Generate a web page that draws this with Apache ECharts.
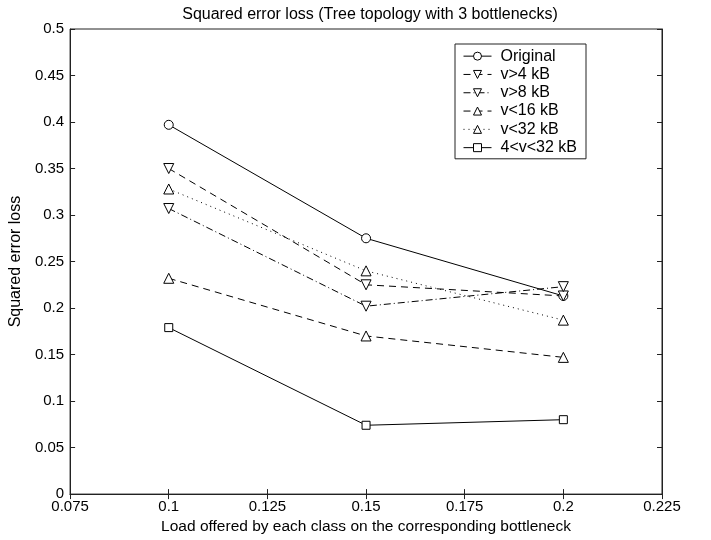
<!DOCTYPE html>
<html>
<head>
<meta charset="utf-8">
<script src="https://cdn.jsdelivr.net/npm/echarts@6/dist/echarts.min.js"></script>
<style>
  html, body { margin: 0; padding: 0; background: #fff; }
  #chart { width: 711px; height: 540px; }
</style>
</head>
<body>
<div id="chart"></div>
<script>
// Offered load per class (x values)
const loads = [0.1, 0.15, 0.2];

// Squared error loss per flow-size filter
const original   = [0.397, 0.275, 0.213];
const vGt4       = [0.350, 0.225, 0.213];
const vGt8       = [0.307, 0.202, 0.223];
const vLt16      = [0.232, 0.170, 0.147];
const vLt32      = [0.328, 0.240, 0.187];
const v4to32     = [0.179, 0.074, 0.080];

const seriesNames = ['Original', 'v>4 kB', 'v>8 kB', 'v<16 kB', 'v<32 kB', '4<v<32 kB'];

const FONT = 'Liberation Sans, Arial, Helvetica, sans-serif';

function pairs(vals) {
  return loads.map((x, i) => [x, vals[i]]);
}

function mkSeries(name, vals, symbol, rotate, dash, size) {
  return {
    name: name,
    type: 'line',
    data: pairs(vals),
    symbol: symbol,
    symbolSize: size,
    symbolRotate: rotate,
    showAllSymbol: true,
    color: '#000',
    lineStyle: { color: '#000', width: 1, type: dash },
    itemStyle: { color: '#fff', borderColor: '#000', borderWidth: 1 },
    emphasis: { disabled: true },
    animation: false,
    z: 3
  };
}

const chart = echarts.init(document.getElementById('chart'), null, { renderer: 'canvas' });

const axisLine = { show: true, lineStyle: { color: '#222', width: 1 } };
const axisTick = { show: true, inside: true, length: 5, lineStyle: { color: '#222', width: 1 } };

chart.setOption({
  backgroundColor: '#fff',
  animation: false,
  title: {
    text: 'Squared error loss (Tree topology with 3 bottlenecks)',
    left: 365, top: 2, textAlign: 'center',
    textStyle: { fontFamily: FONT, fontSize: 16, fontWeight: 'normal', color: '#000' }
  },
  grid: { left: 67, right: 49, top: 29, bottom: 44, show: true, borderColor: '#222', borderWidth: 1 },
  legend: {
    data: seriesNames,
    orient: 'vertical',
    left: 455, top: 44,
    padding: [4, 9, 3, 8],
    itemWidth: 28, itemHeight: 10, itemGap: 2,
    backgroundColor: '#fff',
    borderColor: '#222', borderWidth: 1,
    lineStyle: { width: 1 },
    itemStyle: { color: '#fff', borderColor: '#000', borderWidth: 1 },
    textStyle: { fontFamily: FONT, fontSize: 16, lineHeight: 16.3, color: '#000', padding: [0, 0, 0, 4] }
  },
  xAxis: [{
    type: 'value', min: 0.075, max: 0.225, interval: 0.025,
    name: 'Load offered by each class on the corresponding bottleneck',
    nameLocation: 'middle', nameGap: 22,
    nameTextStyle: { fontFamily: FONT, fontSize: 15.5, color: '#000' },
    axisLine: axisLine, axisTick: axisTick,
    splitLine: { show: false },
    axisLabel: {
      fontFamily: FONT, fontSize: 15, color: '#000', margin: 5,
      formatter: v => String(parseFloat(v.toFixed(3)))
    }
  }, {
    type: 'value', position: 'top', min: 0.075, max: 0.225, interval: 0.025,
    axisLine: axisLine, axisTick: axisTick, axisLabel: { show: false }, splitLine: { show: false }
  }],
  yAxis: [{
    type: 'value', min: 0, max: 0.5, interval: 0.05,
    name: 'Squared error loss',
    nameLocation: 'middle', nameGap: 42, nameRotate: 90,
    nameTextStyle: { fontFamily: FONT, fontSize: 16, color: '#000' },
    axisLine: axisLine, axisTick: axisTick,
    splitLine: { show: false },
    axisLabel: {
      fontFamily: FONT, fontSize: 15, color: '#000', margin: 6,
      formatter: v => String(parseFloat(v.toFixed(2)))
    }
  }, {
    type: 'value', position: 'right', min: 0, max: 0.5, interval: 0.05,
    axisLine: axisLine, axisTick: axisTick, axisLabel: { show: false }, splitLine: { show: false }
  }],
  series: [
    mkSeries(seriesNames[0], original, 'circle', 0, 'solid', 9),
    mkSeries(seriesNames[1], vGt4, 'triangle', 180, [7, 5], 10),
    mkSeries(seriesNames[2], vGt8, 'triangle', 180, [7, 3, 1, 3], 10),
    mkSeries(seriesNames[3], vLt16, 'triangle', 0, [7, 5], 10),
    mkSeries(seriesNames[4], vLt32, 'triangle', 0, [1, 4], 10),
    mkSeries(seriesNames[5], v4to32, 'rect', 0, 'solid', 8)
  ]
});
</script>
</body>
</html>
